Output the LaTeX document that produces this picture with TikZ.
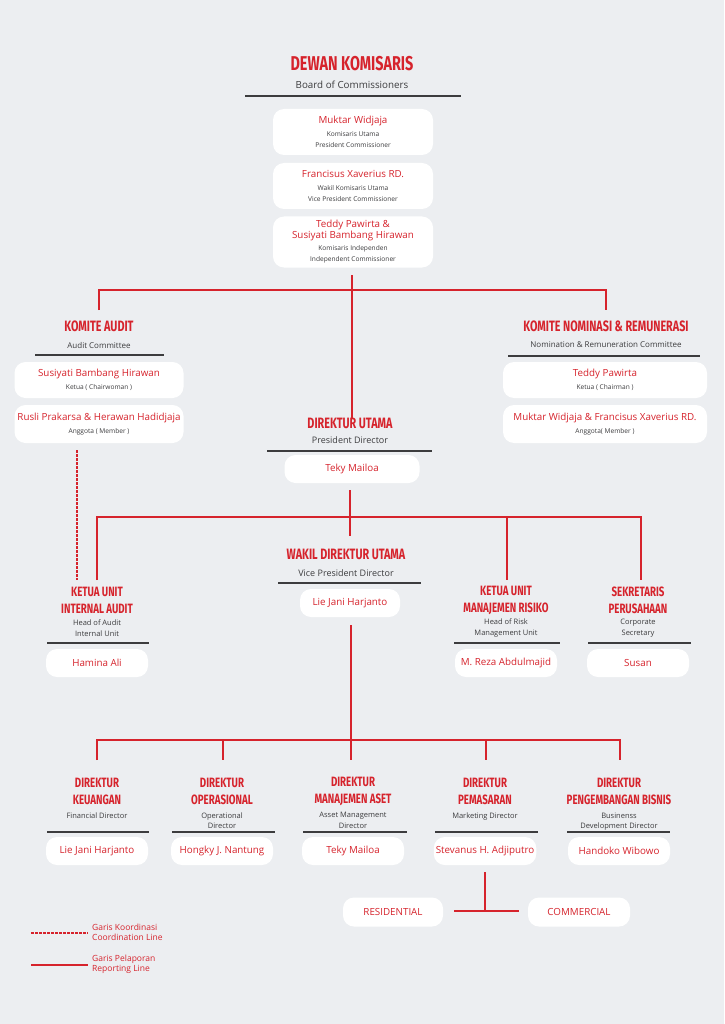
\documentclass[tikz,border=0pt]{standalone}
\usepackage{fontspec}
\setmainfont{Open Sans}
\newfontfamily\headfont[FakeStretch=0.72]{Fira Sans Bold}
\definecolor{bgc}{HTML}{ECEEF1}
\definecolor{redc}{HTML}{D6232C}
\definecolor{darkc}{HTML}{3C3C3E}
\usetikzlibrary{positioning}
\tikzset{
  box/.style={fill=white,rounded corners=11pt,inner sep=2pt,align=center,text=redc,font=\fontsize{9.8}{11}\selectfont},
  head/.style={text=redc,align=center,font=\headfont\fontsize{15}{17}\selectfont},
  sub/.style={text=darkc,align=center,font=\fontsize{8}{10}\selectfont},
  hrule/.style={darkc,line width=1.6pt},
  rep/.style={redc,line width=1.4pt},
  coord/.style={redc,line width=1.2pt,dash pattern=on 2.5pt off 1.5pt},
}
\newcommand{\sm}[1]{{\color{darkc}\fontsize{6.6}{8}\selectfont #1}}
\begin{document}
\begin{tikzpicture}[x=1pt,y=-1pt]
\fill[bgc] (0,0) rectangle (724,1024);
\useasboundingbox (0,0) rectangle (724,1024);

% board of commissioners
\node[head,font=\headfont\fontsize{20}{22}\selectfont] (dk) at (352,64) {DEWAN KOMISARIS};
\node[sub,font=\fontsize{9.8}{11}\selectfont] (dks) at (352,85) {Board of Commissioners};
\draw[hrule] (245,96) -- (461,96);
\node[box,minimum width=160pt,minimum height=46pt] (k1) at (353,132) {Muktar Widjaja\\[2pt]\sm{Komisaris Utama}\\\sm{President Commissioner}};
\node[box,minimum width=160pt,minimum height=46pt] (k2) at (353,186) {Francisus Xaverius RD.\\[2pt]\sm{Wakil Komisaris Utama}\\\sm{Vice President Commissioner}};
\node[box,minimum width=160pt,minimum height=51pt] (k3) at (353,242) {Teddy Pawirta \&\\Susiyati Bambang Hirawan\\[1pt]\sm{Komisaris Independen}\\\sm{Independent Commissioner}};

% committees
\node[head] (ka) at (99,326) {KOMITE AUDIT};
\node[sub] (kas) at (99,345) {Audit Committee};
\draw[hrule] (35,355) -- (164,355);
\node[box,minimum width=169pt,minimum height=36pt] (ka1) at (99,380) {Susiyati Bambang Hirawan\\[2pt]\sm{Ketua ( Chairwoman )}};
\node[box,minimum width=169pt,minimum height=38pt] (ka2) at (99,424) {Rusli Prakarsa \& Herawan Hadidjaja\\[2pt]\sm{Anggota ( Member )}};

\node[head] (kn) at (606,326) {KOMITE NOMINASI \& REMUNERASI};
\node[sub] (kns) at (606,345) {Nomination \& Remuneration Committee};
\draw[hrule] (508,356) -- (700,356);
\node[box,minimum width=204pt,minimum height=36pt] (kn1) at (605,380) {Teddy Pawirta\\[2pt]\sm{Ketua ( Chairman )}};
\node[box,minimum width=204pt,minimum height=38pt] (kn2) at (605,424) {Muktar Widjaja \& Francisus Xaverius RD.\\[2pt]\sm{Anggota( Member )}};

\draw[rep] (352,275) -- (352,418);
\draw[rep] (99,310) -- (99,290) -- (606,290) -- (606,310);

% president director
\node[head] (du) at (350,423) {DIREKTUR UTAMA};
\node[sub,font=\fontsize{9}{11}\selectfont] (dus) at (350,440) {President Director};
\draw[hrule] (267,451) -- (432,451);
\node[box,minimum width=135pt,minimum height=28pt] (du1) at (352,469) {Teky Mailoa};

\draw[rep] (350,490) -- (350,536);
\draw[rep] (97,580) -- (97,517) -- (641,517) -- (641,580);
\draw[rep] (507,517) -- (507,580);
\draw[coord] (77,450) -- (77,580);

% vice president director
\node[head] (wdu) at (346,554) {WAKIL DIREKTUR UTAMA};
\node[sub,font=\fontsize{9}{11}\selectfont] (wdus) at (346,573) {Vice President Director};
\draw[hrule] (278,583) -- (421,583);
\node[box,minimum width=100pt,minimum height=28pt] (wdu1) at (350,603) {Lie Jani Harjanto};

% units
\foreach \nm/\x/\ta/\tb/\sa/\sb/\per/\l/\r in {
  ia/97/KETUA UNIT/INTERNAL AUDIT/Head of Audit/Internal Unit/Hamina Ali/47/149,
  mr/506/KETUA UNIT/MANAJEMEN RISIKO/Head of Risk/Management Unit/M. Reza Abdulmajid/454/560,
  sp/638/SEKRETARIS/PERUSAHAAN/Corporate/Secretary/Susan/588/691}{
  \node[head,font=\headfont\fontsize{13.5}{17}\selectfont] (\nm) at (\x,600) {\ta\\\tb};
  \node[sub,font=\fontsize{7.5}{10.5}\selectfont] (\nm s) at (\x,628) {\sa\\\sb};
  \draw[hrule] (\l,643) -- (\r,643);
  \node[box,minimum width=102pt,minimum height=28pt] (\nm b) at (\x,663) {\per};
}

\draw[rep] (351,625) -- (351,760);
\draw[rep] (97,760) -- (97,740) -- (620,740) -- (620,760);
\foreach \x in {223,486} \draw[rep] (\x,740) -- (\x,760);

% directors
\foreach \nm/\x/\ta/\tb/\sa/\per/\l/\r in {
  dkeu/97/DIREKTUR/KEUANGAN/Financial Director/Lie Jani Harjanto/47/149,
  dop/222/DIREKTUR/OPERASIONAL/Operational\\Director/Hongky J. Nantung/172/275,
  dma/353/DIREKTUR/MANAJEMEN ASET/Asset Management\\Director/Teky Mailoa/303/407,
  dpm/485/DIREKTUR/PEMASARAN/Marketing Director/Stevanus H. Adjiputro/435/538,
  dpb/619/DIREKTUR/PENGEMBANGAN BISNIS/Businenss\\Development Director/Handoko Wibowo/567/670}{
  \node[head,font=\headfont\fontsize{13.5}{17}\selectfont] (\nm) at (\x,791) {\ta\\\tb};
  \node[sub,font=\fontsize{7.5}{10.5}\selectfont,anchor=north] (\nm s) at (\x,809) {\sa};
  \draw[hrule] (\l,832) -- (\r,832);
  \node[box,minimum width=102pt,minimum height=28pt] (\nm b) at (\x,851) {\per};
}

\node[box,minimum width=100pt,minimum height=29pt] (res) at (393,912) {RESIDENTIAL};
\node[box,minimum width=102pt,minimum height=29pt] (com) at (579,912) {COMMERCIAL};
\draw[rep] (485,872) -- (485,911);
\draw[rep] (454,911) -- (519,911);

% legend
\draw[coord] (31,933) -- (88,933);
\node[anchor=west,text=redc,align=left,font=\fontsize{8.5}{10}\selectfont,inner sep=0pt] (lg1) at (92,932) {Garis Koordinasi\\Coordination Line};
\draw[rep] (31,965) -- (88,965);
\node[anchor=west,text=redc,align=left,font=\fontsize{8.5}{10}\selectfont,inner sep=0pt] (lg2) at (92,964) {Garis Pelaporan\\Reporting Line};
\end{tikzpicture}
\end{document}
